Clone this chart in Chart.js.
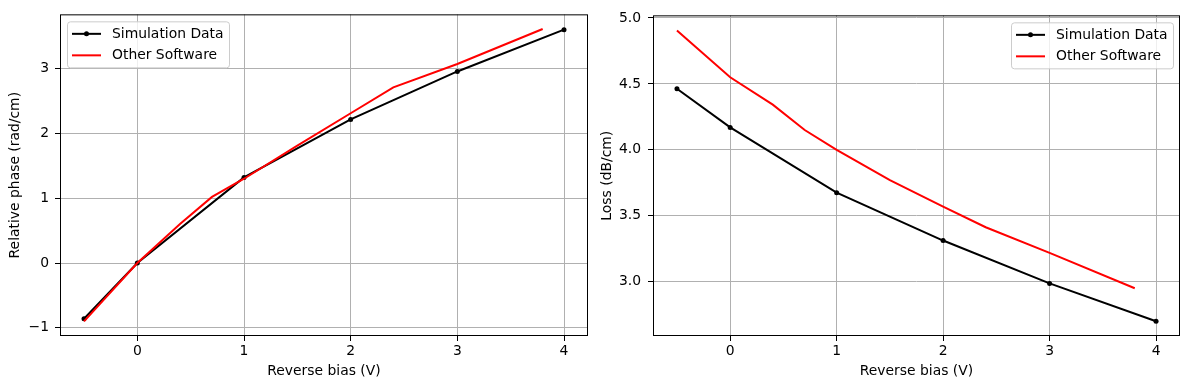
<!DOCTYPE html>
<html>
<head>
<meta charset="utf-8">
<script src="https://cdn.jsdelivr.net/npm/chart.js@4/dist/chart.umd.min.js"></script>
<style>
  html, body { margin: 0; padding: 0; background: #fff; }
  #wrap { position: relative; width: 1189px; height: 389px; }
  canvas { position: absolute; top: 0; }
</style>
</head>
<body>
<div id="wrap">
  <canvas id="phaseChart" width="594" height="389" style="left:0"></canvas>
  <canvas id="lossChart" width="595" height="389" style="left:594px"></canvas>
</div>
<script>
const simBias = [-0.5, 0, 1, 2, 3, 4];
const simPhase = [-0.86, 0, 1.32, 2.215, 2.955, 3.6];
const simLoss = [4.463, 4.17, 3.675, 3.312, 2.987, 2.70];

const otherBias = [-0.5, 0, 0.4, 0.7, 1.0, 1.5, 2.0, 2.4, 3.0, 3.8];
const otherPhase = [-0.9, 0, 0.6, 1.02, 1.3, 1.81, 2.31, 2.71, 3.07, 3.61];
const otherLoss = [4.905, 4.55, 4.343, 4.15, 4.0, 3.77, 3.57, 3.413, 3.218, 2.95];

const biasTicks = [0, 1, 2, 3, 4];
const phaseTicks = [-1, 0, 1, 2, 3];
const lossTicks = [3.0, 3.5, 4.0, 4.5, 5.0];

Chart.defaults.font.family = '"DejaVu Sans", sans-serif';
Chart.defaults.font.size = 13.9;
Chart.defaults.color = '#000';

const font = { family: '"DejaVu Sans", sans-serif', size: 13.9 };

// frame around the plot area + matplotlib style legend
const frameLegend = {
    id: 'frameLegend',
    afterDraw(chart, args, opts) {
        const { ctx, chartArea: a } = chart;
        ctx.save();
        ctx.strokeStyle = '#000';
        ctx.lineWidth = 1;
        ctx.strokeRect(a.left + 0.5, a.top + 0.5, a.right - a.left - 1, a.bottom - a.top - 1);

        const w = 162, h = 46;
        const x = opts.side === 'left' ? a.left + 7 : a.right - 7 - w;
        const y = a.top + 7;
        ctx.beginPath();
        ctx.roundRect(x + 0.5, y + 0.5, w, h, 3);
        ctx.fillStyle = 'rgba(255,255,255,0.8)';
        ctx.fill();
        ctx.strokeStyle = '#cccccc';
        ctx.stroke();

        ctx.font = '13.9px "DejaVu Sans", sans-serif';
        ctx.textBaseline = 'middle';
        chart.data.datasets.forEach((ds, i) => {
            const ry = y + 12.5 + i * 21.5;
            ctx.strokeStyle = ds.borderColor;
            ctx.lineWidth = 2;
            ctx.beginPath();
            ctx.moveTo(x + 5, ry);
            ctx.lineTo(x + 34, ry);
            ctx.stroke();
            if (ds.pointRadius > 0) {
                ctx.fillStyle = ds.borderColor;
                ctx.beginPath();
                ctx.arc(x + 19.5, ry, ds.pointRadius, 0, Math.PI * 2);
                ctx.fill();
            }
            ctx.fillStyle = '#000';
            ctx.fillText(ds.label, x + 45, ry + 0.5);
        });
        ctx.restore();
    }
};

function crearGrafico(id, simY, otherY, yMin, yMax, yTicks, yFmt, yTitle, axisW, titlePad, tickPad, rightPad, side) {
    const ctx = document.getElementById(id).getContext('2d');
    return new Chart(ctx, {
        type: 'line',
        data: {
            datasets: [{
                label: 'Simulation Data',
                data: simBias.map((x, i) => ({ x, y: simY[i] })),
                borderColor: '#000000',
                backgroundColor: '#000000',
                borderWidth: 2,
                pointRadius: 2.5,
                pointBorderWidth: 0,
                pointHoverRadius: 2.5,
                tension: 0,
                order: 1
            }, {
                label: 'Other Software',
                data: otherBias.map((x, i) => ({ x, y: otherY[i] })),
                borderColor: '#ff0000',
                backgroundColor: '#ff0000',
                borderWidth: 2,
                pointRadius: 0,
                tension: 0,
                order: 0
            }]
        },
        options: {
            responsive: false,
            animation: false,
            devicePixelRatio: 1,
            events: [],
            layout: { padding: { top: 13, right: rightPad, left: 0, bottom: 0 } },
            plugins: {
                legend: { display: false },
                tooltip: { enabled: false },
                frameLegend: { side }
            },
            scales: {
                x: {
                    type: 'linear',
                    min: -0.725,
                    max: 4.225,
                    afterBuildTicks: s => { s.ticks = biasTicks.map(v => ({ value: v })); },
                    afterFit: s => { s.height = 53; },
                    grid: { color: '#b0b0b0', lineWidth: 1, tickColor: '#000', tickLength: 5, tickWidth: 1 },
                    border: { display: false },
                    ticks: { color: '#000', font, padding: 2, maxRotation: 0, callback: v => String(v) },
                    title: { display: true, text: 'Reverse bias (V)', color: '#000', font, padding: { top: 0, bottom: 9 } }
                },
                y: {
                    type: 'linear',
                    min: yMin,
                    max: yMax,
                    afterBuildTicks: s => { s.ticks = yTicks.map(v => ({ value: v })); },
                    afterFit: s => { s.width = axisW; },
                    grid: { color: '#b0b0b0', lineWidth: 1, tickColor: '#000', tickLength: 5, tickWidth: 1 },
                    border: { display: false },
                    ticks: { color: '#000', font, padding: tickPad, callback: yFmt },
                    title: { display: true, text: yTitle, color: '#000', font, padding: { top: titlePad, bottom: 0 } }
                }
            }
        },
        plugins: [frameLegend]
    });
}

const phaseFmt = v => v < 0 ? '\u2212' + Math.abs(v) : String(v);
const lossFmt = v => Number(v).toFixed(1);

crearGrafico('phaseChart', simPhase, otherPhase, -1.126, 3.836, phaseTicks, phaseFmt,
    'Relative phase (rad/cm)', 60, 6.7, 6, 6, 'left');
crearGrafico('lossChart', simLoss, otherLoss, 2.588, 5.02, lossTicks, lossFmt,
    'Loss (dB/cm)', 59, 5.2, 7, 9, 'right');
</script>
</body>
</html>
